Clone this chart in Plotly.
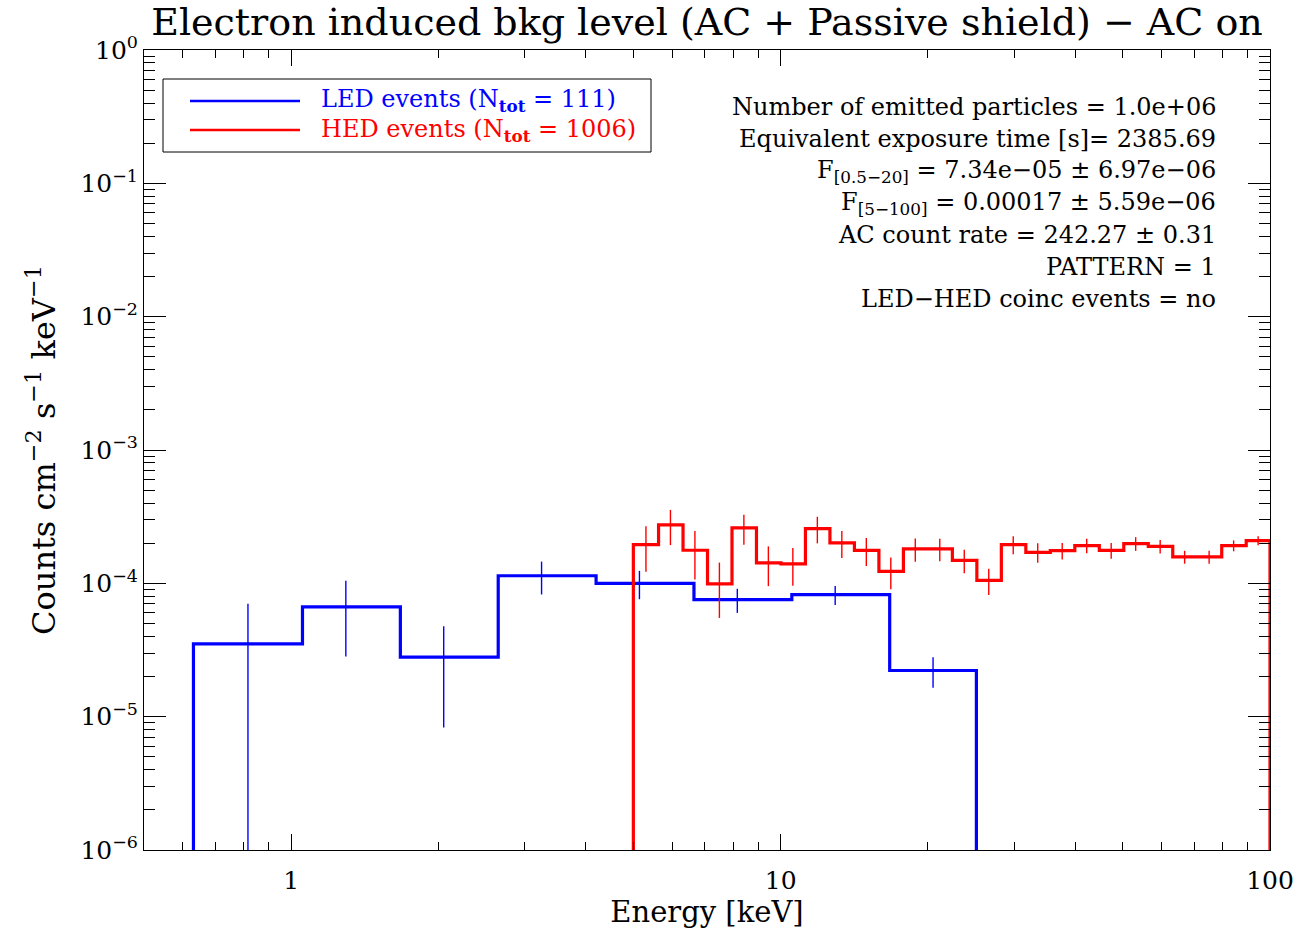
import numpy as np
import plotly.graph_objects as go

# ---------------- data ----------------
# LED events (blue): energy bin edges [keV], flux, 1-sigma error
led_edges = [0.631, 1.0, 1.585, 2.512, 3.981, 6.310, 10.0, 15.85, 25.12]
led_vals = [3.52e-5, 6.65e-5, 2.80e-5, 1.14e-4, 1.00e-4, 7.55e-5, 8.22e-5, 2.22e-5]
led_errs = [3.52e-5, 3.82e-5, 1.97e-5, 3.15e-5, 2.40e-5, 1.55e-5, 1.35e-5, 5.7e-6]

# HED events (red)
hed_edges = [5.000, 5.611, 6.296, 7.065, 7.927, 8.895, 9.981, 11.200, 12.568,
             14.103, 15.825, 17.758, 19.926, 22.360, 25.091, 28.155, 31.593,
             35.451, 39.781, 44.639, 50.090, 56.210, 63.070, 70.770, 79.420,
             89.120, 100.0]
hed_vals = [1.95e-4, 2.745e-4, 1.77e-4, 9.90e-5, 2.606e-4, 1.423e-4, 1.398e-4,
            2.575e-4, 2.011e-4, 1.769e-4, 1.231e-4, 1.813e-4, 1.813e-4,
            1.488e-4, 1.053e-4, 1.952e-4, 1.709e-4, 1.76e-4, 1.919e-4,
            1.769e-4, 1.986e-4, 1.896e-4, 1.579e-4, 1.579e-4, 1.919e-4,
            2.092e-4]
hed_errs = [7.3e-5, 8.1e-5, 7.0e-5, 4.4e-5, 6.6e-5, 4.7e-5, 4.4e-5, 5.8e-5,
            4.6e-5, 4.2e-5, 3.3e-5, 3.6e-5, 3.5e-5, 3.0e-5, 2.35e-5, 3.0e-5,
            2.85e-5, 2.5e-5, 2.4e-5, 2.4e-5, 2.35e-5, 2.2e-5, 1.75e-5, 1.75e-5,
            1.8e-5, 1.65e-5]

y_tickvals = [1e-6, 1e-5, 1e-4, 1e-3, 1e-2, 1e-1, 1e0]
y_ticktext = ["10<sup>\u22126</sup>", "10<sup>\u22125</sup>", "10<sup>\u22124</sup>",
              "10<sup>\u22123</sup>", "10<sup>\u22122</sup>", "10<sup>\u22121</sup>",
              "10<sup>0</sup>"]
x_tickvals = [1, 10, 100]
x_ticktext = ["1", "10", "100"]

info_lines = [
    "Number of emitted particles = 1.0e+06",
    "Equivalent exposure time [s]= 2385.69",
    "F<sub>[0.5\u221220]</sub> = 7.34e\u221205 \u00b1 6.97e\u221206",
    "F<sub>[5\u2212100]</sub> = 0.00017 \u00b1 5.59e\u221206",
    "AC count rate = 242.27 \u00b1 0.31",
    "PATTERN = 1",
    "LED\u2212HED coinc events = no",
]
legend_labels = ["LED events (N<sub><b>tot</b></sub> = 111)",
                 "HED events (N<sub><b>tot</b></sub> = 1006)"]

BLUE = "#0000ff"
RED = "#ff0000"
FONT = "DejaVu Serif"


def step_xy(edges, vals, floor=1e-9):
    e = np.asarray(edges, float)
    v = np.asarray(vals, float)
    c = 0.5 * (e[:-1] + e[1:])          # linear bin centres
    m = 0.5 * (c[:-1] + c[1:])          # steps at linear mid-points
    xs = [e[0], e[0]]
    ys = [floor, v[0]]
    for i in range(len(m)):
        xs += [m[i], m[i]]
        ys += [v[i], v[i + 1]]
    xs += [e[-1], e[-1]]
    ys += [v[-1], floor]
    return xs, ys, c


fig = go.Figure()
for edges, vals, errs, col in [(led_edges, led_vals, led_errs, BLUE),
                               (hed_edges, hed_vals, hed_errs, RED)]:
    xs, ys, cen = step_xy(edges, vals)
    fig.add_trace(go.Scatter(x=xs, y=ys, mode="lines",
                             line=dict(color=col, width=3.2),
                             showlegend=False, hoverinfo="skip"))
    fig.add_trace(go.Scatter(x=cen, y=vals, mode="markers",
                             marker=dict(size=0.1, color=col, opacity=0),
                             error_y=dict(type="data", array=errs, symmetric=True,
                                          color=col, thickness=1.4, width=0),
                             showlegend=False))

minor_x = [k * 10.0 ** p for p in (-1, 0, 1) for k in range(2, 10)]
minor_x = [v for v in minor_x if 0.5 <= v <= 100]
minor_y = [k * 10.0 ** p for p in range(-6, 0) for k in range(2, 10)]

axis_common = dict(showline=True, linecolor="black", linewidth=1, mirror="ticks",
                   ticks="inside", tickcolor="black", tickwidth=1,
                   showgrid=False, zeroline=False, automargin=False,
                   tickfont=dict(family=FONT, size=25, color="black"))

fig.update_xaxes(type="log", range=[np.log10(0.5), 2], tickmode="array",
                 tickvals=x_tickvals, ticktext=x_ticktext, ticklen=16,
                 ticklabelstandoff=8,
                 minor=dict(tickvals=minor_x, ticks="inside", ticklen=8,
                            tickcolor="black", tickwidth=1),
                 title=dict(text="Energy [keV]", font=dict(family=FONT, size=29, color="black"),
                            standoff=3),
                 **axis_common)
fig.update_yaxes(type="log", range=[-6, 0], tickmode="array",
                 tickvals=y_tickvals, ticktext=y_ticktext, ticklen=22,
                 minor=dict(tickvals=minor_y, ticks="inside", ticklen=11,
                            tickcolor="black", tickwidth=1),
                 title=dict(text="Counts cm<sup>\u22122</sup> s<sup>\u22121</sup> keV<sup>\u22121</sup>",
                            font=dict(family=FONT, size=32, color="black"),
                            standoff=15),
                 **axis_common)

L, R, T, B = 144, 30, 50, 86
W, H = 1300, 936
pw, ph = W - L - R, H - T - B


def px(xp):
    return (xp - L) / pw


def py(yp):
    return (H - B - yp) / ph


annotations = []
for i, line in enumerate(info_lines):
    annotations.append(dict(text=line, xref="paper", yref="paper",
                            x=px(1218), y=py(107 + 32 * i), xanchor="right",
                            yanchor="middle", showarrow=False,
                            font=dict(family=FONT, size=24, color="black")))

shapes = [dict(type="rect", xref="paper", yref="paper",
               x0=px(163), x1=px(651), y0=py(152), y1=py(79),
               line=dict(color="black", width=1), fillcolor="white", layer="above")]
for i, (lab, col) in enumerate(zip(legend_labels, [BLUE, RED])):
    yy = 101 + 29 * i
    shapes.append(dict(type="line", xref="paper", yref="paper",
                       x0=px(190), x1=px(300), y0=py(yy), y1=py(yy),
                       line=dict(color=col, width=2.5), layer="above"))
    annotations.append(dict(text=lab, xref="paper", yref="paper",
                            x=px(319), y=py(yy), xanchor="left", yanchor="middle",
                            showarrow=False,
                            font=dict(family=FONT, size=24, color=col)))

fig.update_layout(
    width=W, height=H,
    margin=dict(l=L, r=R, t=T, b=B, autoexpand=False),
    paper_bgcolor="white", plot_bgcolor="white",
    title=dict(text="Electron induced bkg level (AC + Passive shield) \u2212 AC on",
               font=dict(family=FONT, size=38, color="black"),
               x=0.5, xref="paper", xanchor="center",
               y=1 - 22 / H, yref="container", yanchor="middle"),
    annotations=annotations,
    shapes=shapes,
    showlegend=False,
)

fig.write_html("out.html")
